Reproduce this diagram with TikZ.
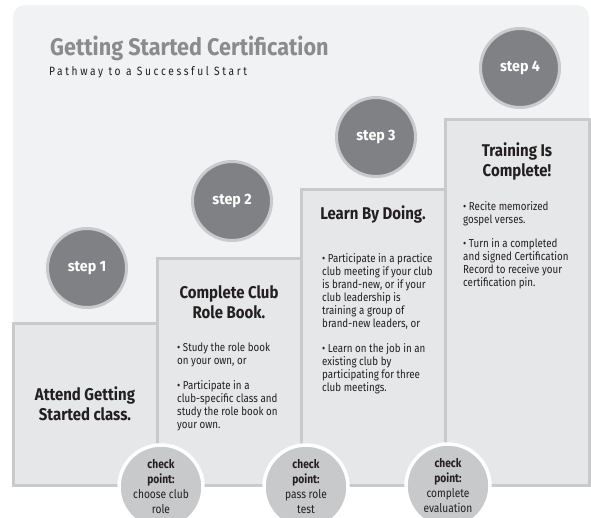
\documentclass[tikz,border=0pt]{standalone}
\usepackage{fontspec}
\setmainfont{Fira Sans}[FakeStretch=0.85]
\newfontfamily\titlefont{Fira Sans}[FakeStretch=0.9]
\newfontfamily\headfont{Fira Sans}[FakeStretch=0.88]
\newfontfamily\stepfont{Fira Sans}[FakeStretch=0.95]
\newfontfamily\spacedfont{Fira Sans}[FakeStretch=0.85,LetterSpace=22]
\usetikzlibrary{positioning}

\definecolor{bgfill}{HTML}{F1F2F4}
\definecolor{boxfill}{HTML}{E6E7E8}
\definecolor{boxline}{HTML}{C9CACC}
\definecolor{stepfill}{HTML}{808184}
\definecolor{checkfill}{HTML}{C8C9CB}
\definecolor{titlegray}{HTML}{8A8B8D}
\definecolor{inkgray}{HTML}{231F20}

\tikzset{
  stage box/.style = {
    shape = rectangle,
    draw  = boxline,
    fill  = boxfill,
    line width = 3pt,
    minimum width = 144pt,
    minimum height = #1,
    anchor = south west,
    outer sep = 0pt},
  stage circle/.style = {
    shape = circle,
    draw  = boxline,
    fill  = stepfill,
    line width = 3pt,
    minimum size = 79pt,
    text = white,
    font = \stepfont\fontsize{15}{17}\selectfont\bfseries},
  check circle/.style = {
    shape = circle,
    draw  = white,
    fill  = checkfill,
    line width = 3.5pt,
    minimum size = 84pt,
    inner sep = 0pt,
    align = center,
    text = inkgray,
    font = \fontsize{12}{15}\selectfont},
  box head/.style = {
    anchor = north,
    align = center,
    inner sep = 0pt,
    text = inkgray,
    font = \headfont\fontsize{17}{20}\selectfont\bfseries},
  box list/.style = {
    anchor = north west,
    align = left,
    inner sep = 0pt,
    text = inkgray,
    font = \fontsize{11.5}{13}\selectfont}
}

\begin{document}
\begin{tikzpicture}[x = 1pt, y = -1pt]
  \useasboundingbox (0,0) rectangle (591,517);
  \clip (0,0) rectangle (591,517);
  \fill[bgfill, rounded corners = 12pt] (13,5) rectangle (589,485);

  \node[anchor = base west, inner sep = 0pt, text = titlegray,
        font = \titlefont\fontsize{24}{26}\selectfont\bfseries] (title) at (50,55) {Getting Started Certification};
  \node[anchor = base west, inner sep = 0pt, text = inkgray,
        font = \spacedfont\fontsize{12}{13}\selectfont] (subtitle) at (49,75) {Pathway to a Successful Start};

  % the four stair boxes
  \node[stage box = 162pt] (box1) at (13,485) {};
  \node[stage box = 227pt] (box2) at (box1.south east) {};
  \node[stage box = 296pt] (box3) at (box2.south east) {};
  \node[stage box = 366pt] (box4) at (box3.south east) {};

  \node[stage circle] (step1) at (87,268) {step 1};
  \node[stage circle] (step2) at (232,201) {step 2};
  \node[stage circle] (step3) at (376,137) {step 3};
  \node[stage circle] (step4) at (520,68) {step 4};

  \node[box head, below = 64pt of box1.north] (head1) {Attend Getting\\Started class.};
  \node[box head, below = 27pt of box2.north] (head2) {Complete Club\\Role Book.};
  \node[box head, below = 17pt of box3.north] (head3) {Learn By Doing.};
  \node[box head, below = 24pt of box4.north] (head4) {Training Is\\Complete!};

  \node[box list, below right = 85pt and 20pt of box2.north west] (list2)
    {• Study the role book\\on your own, or\\[12pt]
     • Participate in a\\club-specific class and\\study the role book on\\your own.};
  \node[box list, below right = 64pt and 21pt of box3.north west] (list3)
    {• Participate in a practice\\club meeting if your club\\is brand-new, or if your\\club leadership is\\training a group of\\brand-new leaders, or\\[12pt]
     • Learn on the job in an\\existing club by\\participating for three\\club meetings.};
  \node[box list, below right = 82pt and 18pt of box4.north west] (list4)
    {• Recite memorized\\gospel verses.\\[11pt]
     • Turn in a completed\\and signed Certification\\Record to receive your\\certification pin.};

  % check points on the bottom edge
  \node[check circle] (check1) at (161,487) {\textbf{check}\\\textbf{point:}\\choose club\\role};
  \node[check circle] (check2) at (306,487) {\textbf{check}\\\textbf{point:}\\pass role\\test};
  \node[check circle] (check3) at (448,486) {\textbf{check}\\\textbf{point:}\\complete\\evaluation};
\end{tikzpicture}
\end{document}
